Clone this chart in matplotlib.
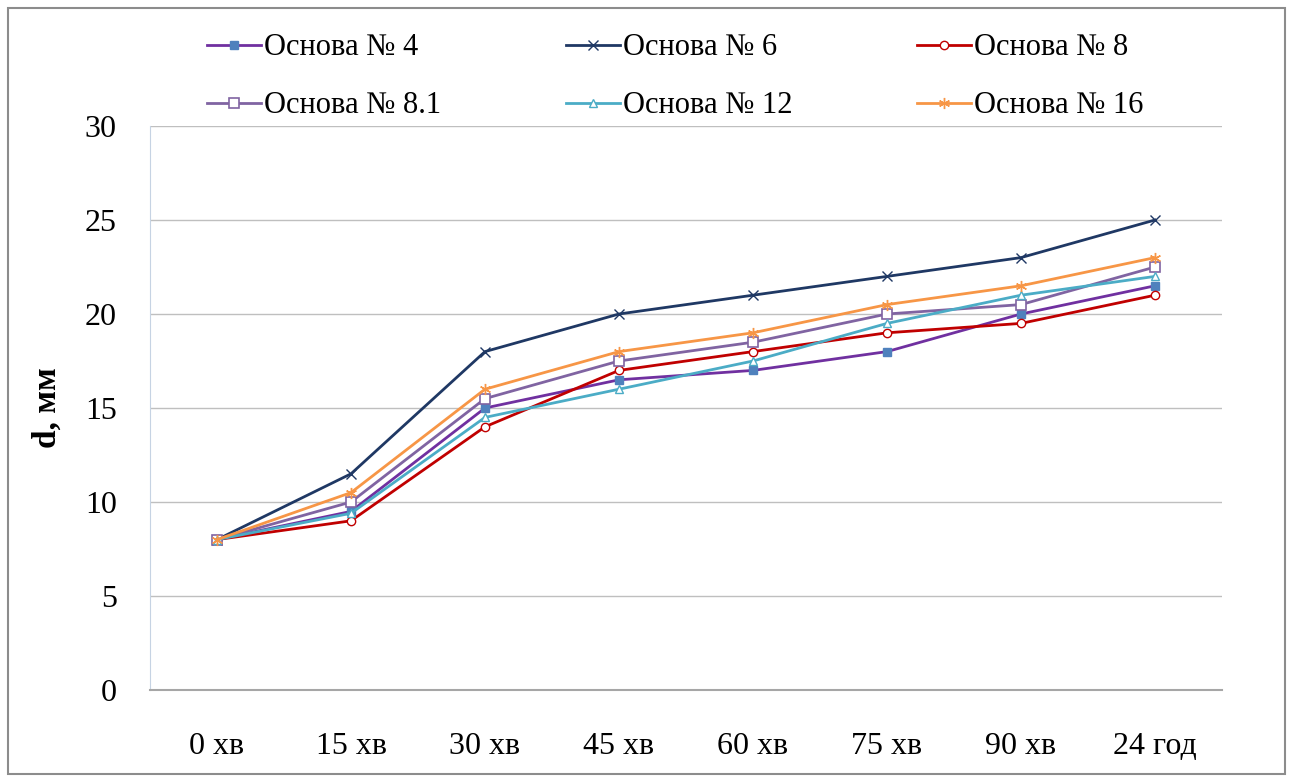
import matplotlib
matplotlib.use('Agg')
import matplotlib.pyplot as plt
from matplotlib.patches import Rectangle

categories = ['0 хв', '15 хв', '30 хв', '45 хв', '60 хв', '75 хв', '90 хв', '24 год']
osnova_4 = [8, 9.5, 15, 16.5, 17, 18, 20, 21.5]
osnova_6 = [8, 11.5, 18, 20, 21, 22, 23, 25]
osnova_8 = [8, 9, 14, 17, 18, 19, 19.5, 21]
osnova_8_1 = [8, 10, 15.5, 17.5, 18.5, 20, 20.5, 22.5]
osnova_12 = [8, 9.4, 14.5, 16, 17.5, 19.5, 21, 22]
osnova_16 = [8, 10.5, 16, 18, 19, 20.5, 21.5, 23]

plt.rcParams['font.family'] = ['Liberation Serif', 'DejaVu Serif']

fig = plt.figure(figsize=(12.93, 7.82), dpi=100)
ax = fig.add_axes([150 / 1293, 1 - 690 / 782, 1072 / 1293, 564 / 782])

# outer frame of the chart
fig.patches.append(Rectangle((8 / 1293, 8 / 782), 1277 / 1293, 766 / 782,
                             transform=fig.transFigure, fill=False,
                             edgecolor='#8c8c8c', linewidth=1.5))

x = list(range(len(categories)))
lw = 2
l4, = ax.plot(x, osnova_4, color='#7030A0', linewidth=lw, marker='s', markersize=6,
              markerfacecolor='#4F81BD', markeredgecolor='#4F81BD', label='Основа № 4')
l6, = ax.plot(x, osnova_6, color='#1F3864', linewidth=lw, marker='x', markersize=7,
              markeredgewidth=1.0, label='Основа № 6')
l8, = ax.plot(x, osnova_8, color='#C00000', linewidth=lw, marker='o', markersize=6,
              markerfacecolor='white', markeredgewidth=1, label='Основа № 8')
l81, = ax.plot(x, osnova_8_1, color='#8064A2', linewidth=lw, marker='s', markersize=7,
               markerfacecolor='white', markeredgewidth=1.2, label='Основа № 8.1')
l12, = ax.plot(x, osnova_12, color='#4BACC6', linewidth=lw, marker='^', markersize=6,
               markerfacecolor='white', markeredgewidth=1, label='Основа № 12')
l16, = ax.plot(x, osnova_16, color='#F79646', linewidth=lw, marker=(6, 2, 0), markersize=8,
               markeredgewidth=1.0, label='Основа № 16')

ax.set_xlim(-0.5, len(categories) - 0.5)
ax.set_ylim(0, 30)
ax.set_yticks(range(0, 31, 5))
ax.set_xticks(x)
ax.set_xticklabels(categories)
ax.tick_params(axis='both', labelsize=23, length=0)
ax.tick_params(axis='x', pad=30)
ax.tick_params(axis='y', pad=24)

ax.grid(axis='y', color='#bfbfbf', linewidth=1)
ax.set_axisbelow(True)
for s in ['top', 'right']:
    ax.spines[s].set_visible(False)
ax.spines['left'].set_color('#c6d3e3')
ax.spines['bottom'].set_color('#a6a6a6')
ax.spines['bottom'].set_linewidth(1.5)

ax.set_ylabel('d, мм', fontsize=24, fontweight='bold', labelpad=16)

# legend filled row by row: 4, 6, 8 / 8.1, 12, 16
handles = [l4, l81, l6, l12, l8, l16]
fig.legend(handles=handles, labels=[h.get_label() for h in handles],
           loc='upper left', bbox_to_anchor=(195 / 1293, 1 - 21 / 782), ncol=3,
           frameon=False, fontsize=22, handlelength=1.75, handletextpad=0.1,
           columnspacing=4.1, labelspacing=0.95, borderaxespad=0)

fig.savefig('out.png', dpi=100)
